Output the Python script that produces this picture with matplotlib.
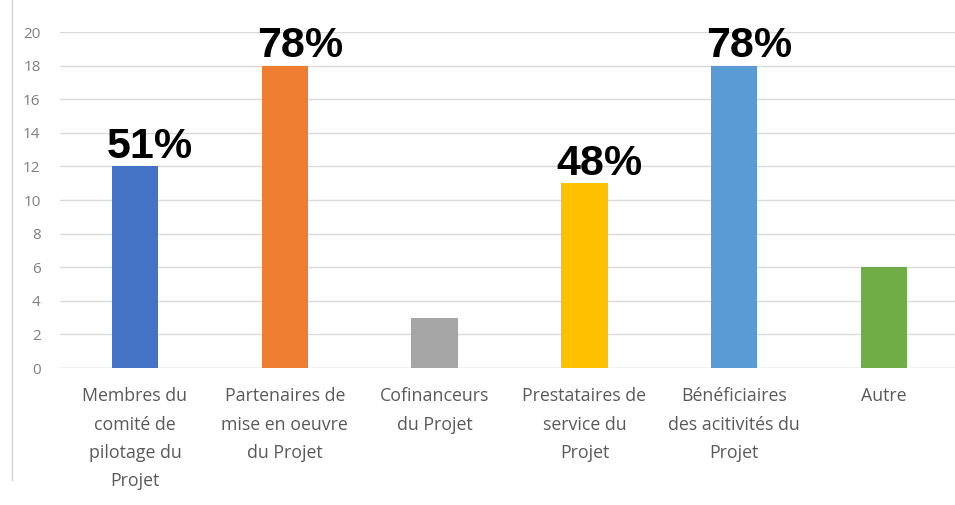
import matplotlib
matplotlib.use("Agg")
import matplotlib.pyplot as plt
from matplotlib.lines import Line2D

# données
categories = ["Membres du\ncomité de\npilotage du\nProjet",
              "Partenaires de\nmise en oeuvre\ndu Projet",
              "Cofinanceurs\ndu Projet",
              "Prestataires de\nservice du\nProjet",
              "Bénéficiaires\ndes acitivités du\nProjet",
              "Autre"]
valeurs = [12, 18, 3, 11, 18, 6]
pourcentages = ["51%", "78%", "", "48%", "78%", ""]
couleurs = ["#4472C4", "#ED7D31", "#A5A5A5", "#FFC000", "#5B9BD5", "#70AD47"]
yticks = list(range(0, 21, 2))

fig = plt.figure(figsize=(9.55, 5.05), dpi=100)
ax = fig.add_axes([60/955, 1-368/505, 899/955, 336/505])

x = list(range(len(categories)))
ax.bar(x, valeurs, width=0.31, color=couleurs, zorder=3)

ax.set_xlim(-0.5, 5.5)
ax.set_ylim(0, 20)
ax.set_yticks(yticks)
ax.yaxis.grid(True, color="#d9d9d9", linewidth=1, zorder=0)
for s in ax.spines.values():
    s.set_visible(False)
ax.axhline(0, color="#d9d9d9", linewidth=1, zorder=1)
ax.tick_params(axis="both", length=0)
ax.tick_params(axis="y", pad=14, labelsize=11, labelcolor="#7f7f7f")
ax.set_xticks(x)
ax.set_xticklabels(categories, fontsize=12.8, color="#595959",
                   family="Open Sans", linespacing=1.72, va="top")
ax.tick_params(axis="x", pad=14)
for lab in ax.get_yticklabels():
    lab.set_family("Open Sans")

# pourcentages au-dessus des barres
for xi, v, p in zip(x, valeurs, pourcentages):
    if p:
        ax.annotate(p, (xi + 0.1, v), xytext=(0, 6), textcoords="offset points",
                    ha="center", va="baseline", fontsize=31, fontweight="bold",
                    family="Liberation Sans", color="black", zorder=4)

# bordure gauche du cadre
fig.add_artist(Line2D([12/955, 12/955], [1-480/505, 1], color="#d0d0d0",
                      linewidth=1, transform=fig.transFigure))

fig.savefig("out.png", dpi=100)
